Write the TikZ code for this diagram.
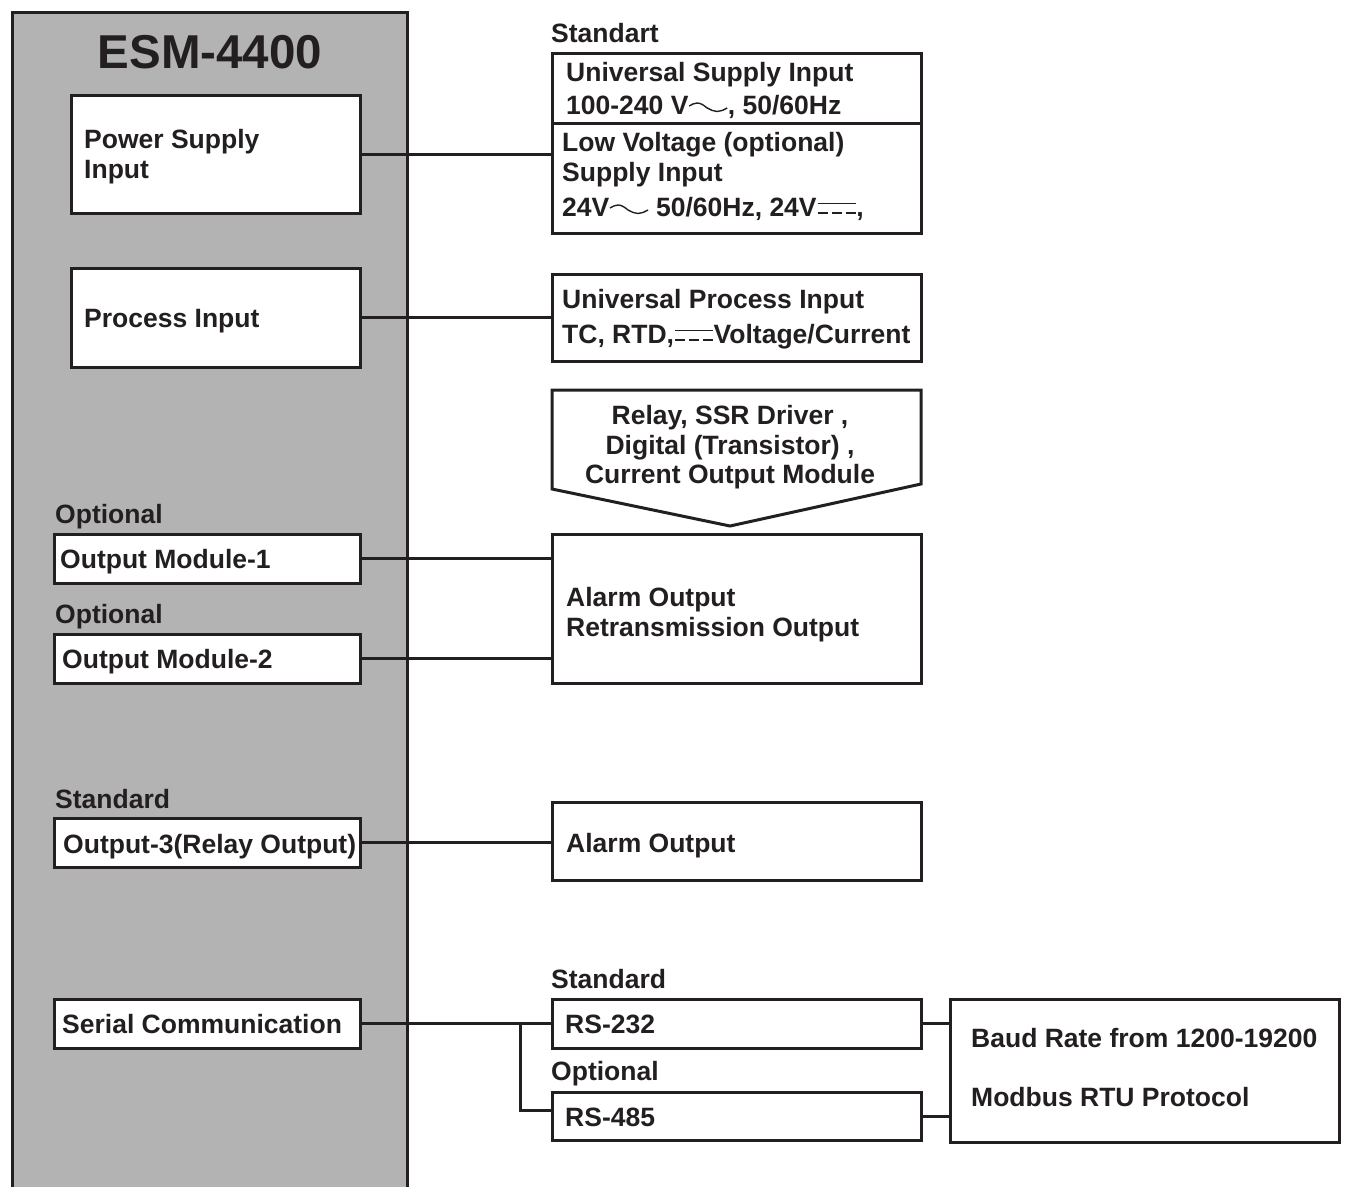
\documentclass[tikz,border=0pt]{standalone}
\usepackage{fontspec}
\setmainfont{Liberation Sans}
\definecolor{ink}{HTML}{231F20}
\definecolor{panel}{HTML}{B3B3B3}
\newcommand\acsym{\tikz[baseline=0pt,x=1pt,y=1pt]\draw[ink,line width=1.4pt] (0,8) sin (8,11) cos (18,6) sin (28,2.5) cos (38,6);}
\newcommand\dcsym{\tikz[baseline=0pt,x=1pt,y=1pt]{\draw[ink,line width=1.6pt] (0,12.5) -- (38,12.5); \draw[ink,line width=1.6pt,dash pattern=on 10pt off 4pt] (0,3) -- (38,3);}}
\begin{document}
\begin{tikzpicture}[x=1pt,y=-1pt,
  box/.style={draw=ink, line width=3pt, fill=white, anchor=north west, inner sep=0pt, outer sep=0pt},
  lbl/.style={font=\fontsize{26.5}{30}\selectfont\bfseries, text=ink, inner sep=0pt, anchor=base west},
  clbl/.style={lbl, anchor=base},
  wire/.style={draw=ink, line width=3pt}]
\useasboundingbox (0,0) rectangle (1346,1186);
% instrument panel
\fill[panel] (12,12) rectangle (407,1192);
\draw[ink, line width=3pt] (12,1192) -- (12,12) -- (407,12) -- (407,1192);
\node[clbl, font=\fontsize{47.5}{50}\selectfont\bfseries] (title) at (210,68) {ESM-4400};

% left boxes
\node[box, minimum width=289pt, minimum height=118pt] (psi) at (71,95) {};
\node[box, minimum width=289pt, minimum height=99pt] (pin) at (71,268) {};
\node[box, minimum width=306pt, minimum height=49pt] (om1) at (54,534) {};
\node[box, minimum width=306pt, minimum height=49pt] (om2) at (54,634) {};
\node[box, minimum width=306pt, minimum height=49pt] (out3) at (54,818) {};
\node[box, minimum width=306pt, minimum height=49pt] (ser) at (54,999) {};

\node[lbl] (tpsi1) at (84,148) {Power Supply};
\node[lbl] (tpsi2) at (84,178) {Input};
\node[lbl] (tpin) at (84,327) {Process Input};
\node[lbl] (topt1) at (55,523) {Optional};
\node[lbl] (tom1) at (60,568) {Output Module-1};
\node[lbl] (topt2) at (55,623) {Optional};
\node[lbl] (tom2) at (62,668) {Output Module-2};
\node[lbl] (tstd1) at (55,808) {Standard};
\node[lbl] (tout3) at (63,853) {Output-3(Relay Output)};
\node[lbl] (tser) at (62,1033) {Serial Communication};

% right boxes
\node[box, minimum width=369pt, minimum height=70pt] (sup1) at (552,53) {};
\node[box, minimum width=369pt, minimum height=110pt] (sup2) at (552,123) {};
\node[box, minimum width=369pt, minimum height=87pt] (proc) at (552,274) {};
\node[box, minimum width=369pt, minimum height=149pt] (alr) at (552,534) {};
\node[box, minimum width=369pt, minimum height=78pt] (alo) at (552,802) {};
\node[box, minimum width=369pt, minimum height=49pt] (rs232) at (552,999) {};
\node[box, minimum width=369pt, minimum height=48pt] (rs485) at (552,1092) {};
\node[box, minimum width=389pt, minimum height=143pt] (baud) at (950,999) {};

% module pentagon
\draw[draw=ink, line width=3pt, fill=white, line join=miter] (552,390) -- (921,390) -- (921,484) -- (730,526) -- (552,489) -- cycle;
\node[clbl] (tmod1) at (730,424) {Relay, SSR Driver ,};
\node[clbl] (tmod2) at (730,454) {Digital (Transistor) ,};
\node[clbl] (tmod3) at (730,483) {Current Output Module};

\node[lbl] (tstd0) at (551,42) {Standart};
\node[lbl] (tsup1) at (566,81) {Universal Supply Input};
\node[lbl] (tsup2) at (566,114) {100-240 V\acsym, 50/60Hz};
\node[lbl] (tsup3) at (562,151) {Low Voltage (optional)};
\node[lbl] (tsup4) at (562,181) {Supply Input};
\node[lbl] (tsup5) at (562,216) {24V\acsym\ 50/60Hz, 24V\dcsym,};
\node[lbl] (tproc1) at (562,308) {Universal Process Input};
\node[lbl] (tproc2) at (562,343) {TC, RTD,\dcsym Voltage/Current};
\node[lbl] (talr1) at (566,606) {Alarm Output};
\node[lbl] (talr2) at (566,636) {Retransmission Output};
\node[lbl] (talo) at (566,852) {Alarm Output};
\node[lbl] (tstd2) at (551,988) {Standard};
\node[lbl] (trs232) at (565,1033) {RS-232};
\node[lbl] (topt3) at (551,1080) {Optional};
\node[lbl] (trs485) at (565,1126) {RS-485};
\node[lbl] (tbaud1) at (971,1047) {Baud Rate from 1200-19200};
\node[lbl] (tbaud2) at (971,1106) {Modbus RTU Protocol};

% connectors
\draw[wire] (psi.east) -- (psi.east -| sup2.west);
\draw[wire] (pin.east) -- (pin.east -| proc.west);
\draw[wire] (om1.east) -- (om1.east -| alr.west);
\draw[wire] (om2.east) -- (om2.east -| alr.west);
\draw[wire] (out3.east) -- (out3.east -| alo.west);
\draw[wire] (ser.east) -- (ser.east -| rs232.west);
\coordinate (br) at (520,1023.5);
\draw[wire] (br) |- ([yshift=6pt]rs485.west);
\draw[wire] (rs232.east) -- (rs232.east -| baud.west);
\draw[wire] (rs485.east) -- (rs485.east -| baud.west);
\end{tikzpicture}
\end{document}
